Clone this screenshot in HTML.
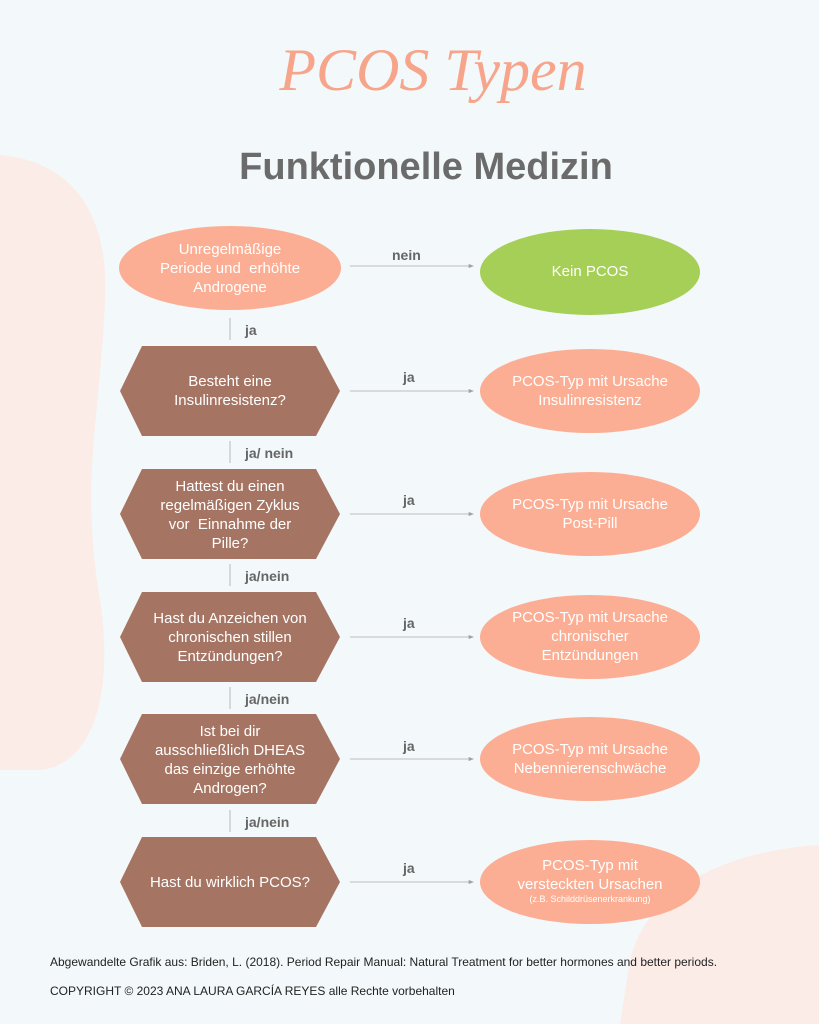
<!DOCTYPE html>
<html><head><meta charset="utf-8"><style>
body{margin:0;width:819px;height:1024px;background:#f3f8fa;position:relative;overflow:hidden;font-family:"Liberation Sans",sans-serif}
.t{position:absolute;text-align:center;color:#fff;font-size:15px;line-height:19px}
.lbl{position:absolute;font-weight:bold;color:#666;font-size:14px}
</style></head><body>
<svg width="819" height="1024" style="position:absolute;left:0;top:0">
<path d="M0 155 C60 160 110 200 105 300 C100 420 80 480 100 600 C115 700 90 765 40 770 L0 770 Z" fill="#fbece8"/>
<path d="M819 845 C740 850 650 880 630 960 L620 1024 L819 1024 Z" fill="#fbece8"/>
<ellipse cx="230" cy="268" rx="111" ry="42" fill="#fbae93"/>
<ellipse cx="590" cy="272" rx="110" ry="43" fill="#a6cf57"/>
<g fill="#a57462">
<polygon points="120,391 142,346 316,346 340,391 316,436 142,436"/>
<polygon points="120,514 142,469 316,469 340,514 316,559 142,559"/>
<polygon points="120,637 142,592 316,592 340,637 316,682 142,682"/>
<polygon points="120,759 142,714 316,714 340,759 316,804 142,804"/>
<polygon points="120,882 142,837 316,837 340,882 316,927 142,927"/>
</g>
<g fill="#fbae93">
<ellipse cx="590" cy="391" rx="110" ry="42"/>
<ellipse cx="590" cy="514" rx="110" ry="42"/>
<ellipse cx="590" cy="637" rx="110" ry="42"/>
<ellipse cx="590" cy="759" rx="110" ry="42"/>
<ellipse cx="590" cy="882" rx="110" ry="42"/>
</g>
<g stroke="#aaa" stroke-width="0.8" fill="#999">
<line x1="350" y1="266" x2="471" y2="266"/><polygon points="473,266 469,264.5 469,267.5"/>
<line x1="350" y1="391" x2="471" y2="391"/><polygon points="473,391 469,389.5 469,392.5"/>
<line x1="350" y1="514" x2="471" y2="514"/><polygon points="473,514 469,512.5 469,515.5"/>
<line x1="350" y1="637" x2="471" y2="637"/><polygon points="473,637 469,635.5 469,638.5"/>
<line x1="350" y1="759" x2="471" y2="759"/><polygon points="473,759 469,757.5 469,760.5"/>
<line x1="350" y1="882" x2="471" y2="882"/><polygon points="473,882 469,880.5 469,883.5"/>
<line x1="230" y1="318" x2="230" y2="340"/>
<line x1="230" y1="441" x2="230" y2="463"/>
<line x1="230" y1="564" x2="230" y2="586"/>
<line x1="230" y1="687" x2="230" y2="709"/>
<line x1="230" y1="810" x2="230" y2="832"/>
</g>
</svg>
<div style="position:absolute;left:0;width:866px;top:36px;text-align:center;font-family:'Liberation Serif',serif;font-style:italic;font-size:60px;color:#f7a58a">PCOS Typen</div>
<div style="position:absolute;left:0;width:852px;top:146px;text-align:center;font-weight:bold;font-size:38px;color:#6b6b6b">Funktionelle Medizin</div>
<div class="t" style="left:120px;width:220px;top:240px">Unregelmäßige<br>Periode und &nbsp;erhöhte<br>Androgene</div>
<div class="t" style="left:480px;width:220px;top:262px">Kein PCOS</div>
<div class="t" style="left:120px;width:220px;top:372px">Besteht eine<br>Insulinresistenz?</div>
<div class="t" style="left:120px;width:220px;top:477px">Hattest du einen<br>regelmäßigen Zyklus<br>vor &nbsp;Einnahme der<br>Pille?</div>
<div class="t" style="left:120px;width:220px;top:609px">Hast du Anzeichen von<br>chronischen stillen<br>Entzündungen?</div>
<div class="t" style="left:120px;width:220px;top:722px">Ist bei dir<br>ausschließlich DHEAS<br>das einzige erhöhte<br>Androgen?</div>
<div class="t" style="left:120px;width:220px;top:873px">Hast du wirklich PCOS?</div>
<div class="t" style="left:480px;width:220px;top:372px">PCOS-Typ mit Ursache<br>Insulinresistenz</div>
<div class="t" style="left:480px;width:220px;top:495px">PCOS-Typ mit Ursache<br>Post-Pill</div>
<div class="t" style="left:480px;width:220px;top:608px">PCOS-Typ mit Ursache<br>chronischer<br>Entzündungen</div>
<div class="t" style="left:480px;width:220px;top:740px">PCOS-Typ mit Ursache<br>Nebennierenschwäche</div>
<div class="t" style="left:480px;width:220px;top:856px">PCOS-Typ mit<br>versteckten Ursachen<br><span style="font-size:9px;line-height:11px;display:block">(z.B. Schilddrüsenerkrankung)</span></div>
<div class="lbl" style="left:392px;top:247px">nein</div>
<div class="lbl" style="left:403px;top:369px">ja</div>
<div class="lbl" style="left:403px;top:492px">ja</div>
<div class="lbl" style="left:403px;top:615px">ja</div>
<div class="lbl" style="left:403px;top:738px">ja</div>
<div class="lbl" style="left:403px;top:860px">ja</div>
<div class="lbl" style="left:245px;top:322px">ja</div>
<div class="lbl" style="left:245px;top:445px">ja/ nein</div>
<div class="lbl" style="left:245px;top:568px">ja/nein</div>
<div class="lbl" style="left:245px;top:691px">ja/nein</div>
<div class="lbl" style="left:245px;top:814px">ja/nein</div>
<div style="position:absolute;left:50px;top:955px;font-size:12px;color:#222">Abgewandelte Grafik aus: Briden, L. (2018). Period Repair Manual: Natural Treatment for better hormones and better periods.</div>
<div style="position:absolute;left:50px;top:984px;font-size:12px;color:#222">COPYRIGHT © 2023 ANA LAURA GARCÍA REYES alle Rechte vorbehalten</div>
</body></html>
